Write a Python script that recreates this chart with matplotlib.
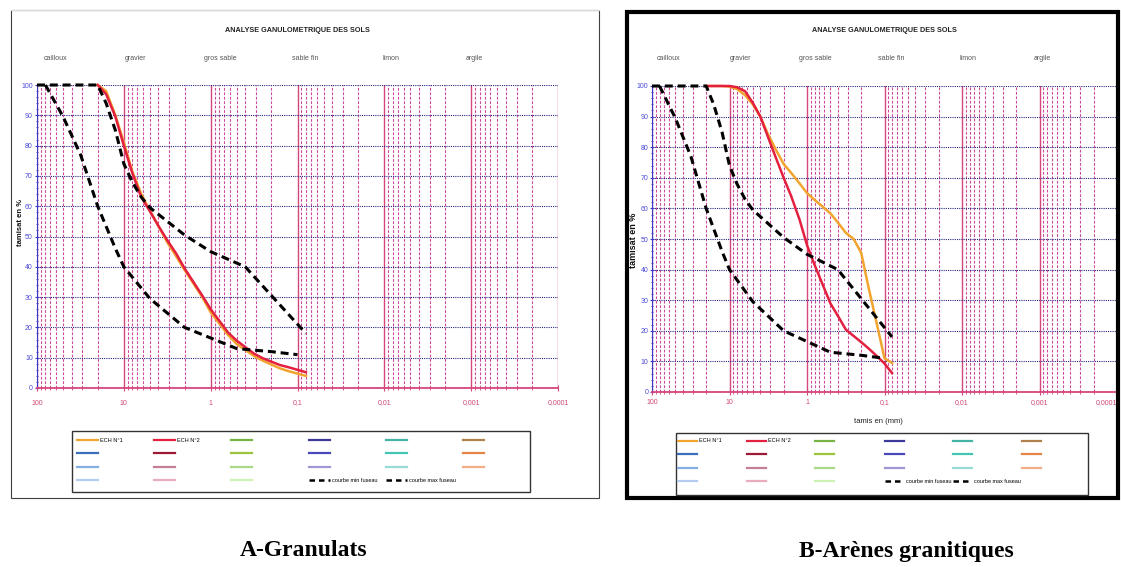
import numpy as np
import matplotlib.pyplot as plt
import matplotlib.transforms as mtransforms
from matplotlib.lines import Line2D
from matplotlib.patches import Rectangle
from matplotlib.ticker import FixedLocator, FixedFormatter, LogLocator, MultipleLocator, NullFormatter

plt.rcParams['font.family'] = ['Liberation Sans', 'DejaVu Sans']

W, H = 1121, 567

# --- data (sieve size in mm, % passing) ---
sieves_a = [20, 16, 12.5, 10, 8, 6.3, 5, 4, 3.15, 2.5, 2, 1.25, 1, 0.63, 0.5, 0.315, 0.25, 0.16, 0.125, 0.08]
a_ech1 = [100, 98, 90, 81, 71.5, 64, 58.5, 53.5, 48, 43.5, 39, 30, 25, 17.5, 14.5, 10.5, 9, 6.5, 5.5, 4]
a_ech2 = [100, 97, 89.5, 80, 71, 63, 58.3, 53.5, 48.7, 44.4, 39.5, 30.5, 26, 18.3, 15.6, 11.3, 9.8, 7.6, 6.8, 5.2]

sieves_b = [20, 16, 12.5, 10, 8, 6.3, 5, 4, 3.15, 2.5, 2, 1.6, 1.25, 1, 0.8, 0.63, 0.5, 0.4, 0.315,
            0.25, 0.2, 0.16, 0.125, 0.1, 0.08]
b_ech1 = [100, 100, 100, 99.8, 99, 97, 94, 90, 84, 79, 74.5, 71.6, 68.2, 65, 62.8, 60.6, 58.4, 55.4, 52,
          50, 45.5, 34, 22, 11, 9.5]
b_ech2 = [100, 100, 100, 100, 99.6, 98.3, 94.5, 90, 83, 76.3, 70, 64, 56.4, 48, 41.6, 35.2, 29, 24.9, 20.4,
          18.3, 16.3, 14.2, 11.7, 9.3, 6.2]

fuseau_min_x = [80, 50, 31.5, 20, 12.5, 10, 5, 2, 1, 0.5, 0.2, 0.1]
fuseau_min_y = [100, 89.5, 77, 60, 46, 40, 29.5, 20, 16.5, 13, 12, 11]
fuseau_max_x = [100, 20, 16, 12.5, 10, 8, 6.3, 5, 2, 1, 0.4, 0.08]
fuseau_max_y = [100, 100, 94, 85, 74, 68, 63, 59.5, 50.5, 45, 40, 18]

x_ticks = [100, 10, 1, 0.1, 0.01, 0.001, 0.0001]
x_ticklabels = ['100', '10', '1', '0,1', '0,01', '0,001', '0,0001']
classes = ['cailloux', 'gravier', 'gros sable', 'sable fin', 'limon', 'argile']

leg_labels = [['ECH N°1', 'ECH N°2', '', '', '', ''],
              ['', '', '', '', '', ''],
              ['', '', '', '', '', ''],
              ['', '', '', 'courbe min fuseau', 'courbe max fuseau', None]]
leg_colors = [['#F2A52E', '#E3203F', '#78B445', '#3C3A96', '#44B4A4', '#B0804E'],
              ['#3A6FBE', '#9C1A36', '#9CC43C', '#4A48B8', '#44C4B4', '#E48446'],
              ['#86AEE4', '#C47E96', '#ACDA86', '#A496D6', '#96DCD4', '#F2AC86'],
              ['#B4CCF2', '#EAACBC', '#CCF2B4', 'black', 'black', None]]

# layout (pixels)
class_pos = [0.036, 0.19, 0.352, 0.515, 0.68, 0.84]
ORANGE, RED = '#F2A52E', '#E3203F'
DASH = (0, (2.6, 1.6))

fig = plt.figure(figsize=(W / 100, H / 100), dpi=100)


def frac_rect(x0, y0, x1, y1):
    return [x0 / W, 1 - y1 / H, (x1 - x0) / W, (y1 - y0) / H]


def panel(box, sieves, ech1, ech2, ylab_size, ylab_xy, xlab_xy, xpad, ypad):
    ax = fig.add_axes(frac_rect(*box))
    ax.set_xscale('log')
    ax.set_xlim(100, 1e-4)
    ax.set_ylim(0, 100)
    ax.xaxis.set_major_locator(FixedLocator(x_ticks))
    ax.xaxis.set_major_formatter(FixedFormatter(x_ticklabels))
    ax.xaxis.set_minor_locator(LogLocator(base=10, subs=np.arange(2, 10), numticks=60))
    ax.xaxis.set_minor_formatter(NullFormatter())
    ax.yaxis.set_major_locator(MultipleLocator(10))
    ax.yaxis.set_minor_locator(MultipleLocator(2))

    ax.grid(which='major', axis='x', color='#D5467C', lw=1.0, ls='-')
    ax.grid(which='minor', axis='x', color='#CC4A9C', lw=0.8, ls=(0, (2.5, 1.5)))
    ax.grid(which='major', axis='y', color='#262680', lw=0.8, ls=(0, (1, 1)))

    ax.tick_params(axis='x', which='major', colors='#D5467C', labelcolor='#D04872', labelsize=5,
                   direction='inout', length=4, pad=xpad)
    ax.tick_params(axis='x', which='minor', colors='#D5467C', direction='inout', length=3)
    ax.tick_params(axis='y', which='major', colors='#3A3AC8', labelcolor='#4A4AD8', labelsize=5,
                   direction='inout', length=3, pad=ypad)
    ax.tick_params(axis='y', which='minor', colors='#3A3AC8', direction='inout', length=2)
    for s in ('top', 'right'):
        ax.spines[s].set_visible(False)
    ax.spines['left'].set_color('#3A3AC8')
    ax.spines['bottom'].set_color('#D5467C')
    ax.spines['bottom'].set_linewidth(1.3)

    ax.plot(sieves, ech1, color=ORANGE, lw=1.8, zorder=3, clip_on=False)
    ax.plot(sieves, ech2, color=RED, lw=1.8, zorder=3, clip_on=False)
    ax.plot(fuseau_min_x, fuseau_min_y, color='black', lw=2.2, ls=DASH, zorder=4, clip_on=False)
    ax.plot(fuseau_max_x, fuseau_max_y, color='black', lw=2.2, ls=DASH, zorder=4, clip_on=False)

    trans = mtransforms.blended_transform_factory(ax.transAxes, fig.transFigure)
    ax.text(0.5, 1 - 31 / H, 'ANALYSE GANULOMETRIQUE DES SOLS', transform=trans,
            ha='center', va='center', fontsize=5.2, weight='bold', color='#222222')
    for name, p in zip(classes, class_pos):
        ax.text(p, 1 - 59 / H, name, transform=trans, ha='center', va='center',
                fontsize=5, color='#555555')

    ax.set_ylabel('tamisat en %', fontsize=ylab_size, weight='bold', color='#111111')
    ax.yaxis.set_label_coords(*ylab_xy)
    ax.set_xlabel('tamis en (mm)', fontsize=5.5, color='#222222')
    ax.xaxis.set_label_coords(*xlab_xy)
    return ax


ax_a = panel((37, 85, 558, 388), sieves_a, a_ech1, a_ech2, 5.5, (-0.024, 0.545), (0.5, -0.143), 6.3, 1.5)
ax_b = panel((652, 86, 1117, 392), sieves_b, b_ech1, b_ech2, 6.5, (-0.031, 0.497), (0.486, -0.085), 3.2, 1.0)

# the last label of panel B sits on the picture edge: keep it inside
fig.canvas.draw()
ax_b.get_xticklabels()[-1].set_horizontalalignment('right')

# panel frames
fig.add_artist(Rectangle((11 / W, 1 - 498 / H), 588 / W, 488 / H, transform=fig.transFigure,
                         fc='none', ec='#404040', lw=0.8, zorder=1))
fig.add_artist(Line2D([11 / W, 599 / W], [1 - 10 / H, 1 - 10 / H], transform=fig.transFigure,
                      color='#d8d8d8', lw=0.8, zorder=2))
fig.add_artist(Rectangle((627 / W, 1 - 498 / H), 491 / W, 486 / H, transform=fig.transFigure,
                         fc='none', ec='black', lw=3, zorder=1))


def key(box, cols, rows, hlen):
    x0, y0, x1, y1 = box
    fig.add_artist(Rectangle((x0 / W, 1 - y1 / H), (x1 - x0) / W, (y1 - y0) / H,
                             transform=fig.transFigure, fc='white', ec='#333333', lw=1, zorder=4))
    pitch = rows[1] - rows[0]
    for c, xc in enumerate(cols):
        hs, ls = [], []
        for r in range(4):
            lab = leg_labels[r][c]
            if lab is None:
                continue
            col = leg_colors[r][c]
            if col == 'black':
                hs.append(Line2D([], [], color='black', lw=1.8, ls=(0, (2.2, 1.6))))
            else:
                hs.append(Line2D([], [], color=col, lw=1.6))
            ls.append(lab)
        fig.legend(hs, ls, loc='upper left', bbox_to_anchor=(xc / W, 1 - (rows[0] - 3.5) / H),
                   frameon=False, fontsize=4, handlelength=hlen, handletextpad=0.4,
                   labelspacing=(pitch - 6.5) / 5.56, borderpad=0, borderaxespad=0)


key((72, 431, 530, 492), [77, 154, 231, 309, 386, 463], [441, 456, 471, 486], 3.8)
key((676, 433, 1088, 495), [678, 747, 815, 885, 953, 1022], [442, 457, 473, 488], 3.4)

fig.text(304 / W, 1 - 550 / H, 'A-Granulats', ha='center', va='center', fontsize=17,
         weight='bold', family='Liberation Serif')
fig.text(906 / W, 1 - 552 / H, 'B-Arènes granitiques', ha='center', va='center', fontsize=17,
         weight='bold', family='Liberation Serif')

fig.savefig('out.png', dpi=100)
